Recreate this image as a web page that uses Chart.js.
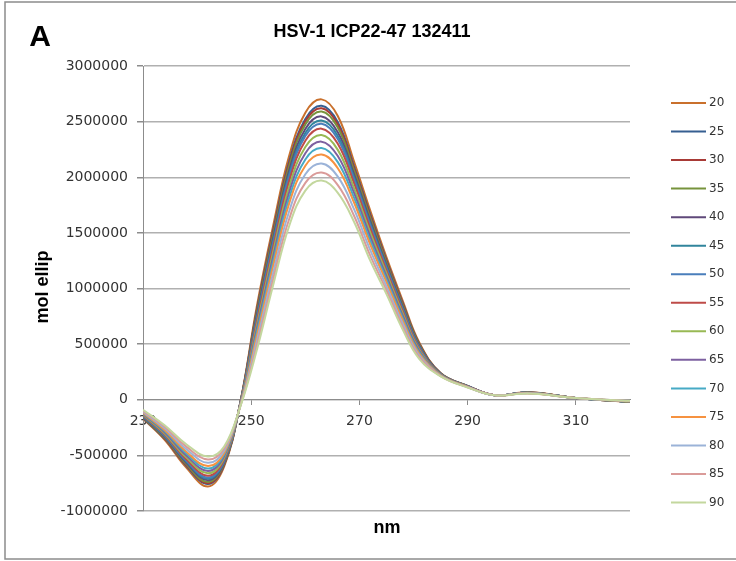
<!DOCTYPE html>
<html>
<head>
<meta charset="utf-8">
<title>HSV-1 ICP22-47 132411</title>
<script src="https://cdn.jsdelivr.net/npm/chart.js@4.4.0/dist/chart.umd.min.js"></script>
<style>
html,body{margin:0;padding:0;background:#fff;}
#wrap{width:736px;height:561px;position:relative;}
</style>
</head>
<body>
<div id="wrap"><canvas id="cd"></canvas></div>
<script>
const nm = [230,234,238,242,245,248,251,254,257,260,263,266,269,272,275,278,281,285,290,295,300,303,310,320];
const nmTicks = [230,250,270,290,310];

const temps = ['20','25','30','35','40','45','50','55','60','65','70','75','80','85','90'];

// mol ellip per temperature
const s20 = [-170000,-360000,-610000,-780000,-600000,-20000,830000,1550000,2190000,2580000,2700000,2550000,2140000,1700000,1280000,890000,520000,240000,125000,40000,65000,62000,15000,-20000];
const s25 = [-164000,-350000,-593000,-758000,-586000,-23000,799000,1508000,2140000,2524000,2642000,2495000,2097000,1664000,1254000,869000,508000,238000,124000,40000,64000,61000,15000,-19000];
const s30 = [-161000,-346000,-587000,-750000,-580000,-24000,787000,1492000,2121000,2503000,2620000,2474000,2081000,1651000,1244000,861000,504000,237000,123000,40000,64000,61000,15000,-19000];
const s35 = [-158000,-341000,-579000,-740000,-573000,-26000,772000,1471000,2096000,2475000,2591000,2447000,2059000,1633000,1231000,851000,498000,236000,123000,40000,64000,61000,15000,-19000];
const s40 = [-153000,-333000,-566000,-723000,-562000,-28000,748000,1439000,2058000,2433000,2547000,2405000,2027000,1606000,1211000,835000,489000,234000,122000,40000,63000,60000,15000,-18000];
const s45 = [-149000,-326000,-555000,-710000,-553000,-30000,729000,1412000,2026000,2398000,2510000,2371000,2000000,1583000,1194000,822000,481000,232000,121000,40000,62000,59000,15000,-17000];
const s50 = [-146000,-321000,-547000,-699000,-546000,-32000,713000,1391000,2001000,2370000,2481000,2343000,1978000,1565000,1181000,812000,475000,231000,121000,40000,62000,59000,15000,-17000];
const s55 = [-141000,-313000,-534000,-683000,-535000,-34000,690000,1359000,1963000,2328000,2437000,2302000,1946000,1538000,1161000,796000,466000,229000,120000,40000,61000,58000,15000,-16000];
const s60 = [-135000,-303000,-518000,-661000,-521000,-38000,658000,1317000,1913000,2272000,2379000,2246000,1902000,1502000,1135000,776000,454000,227000,118000,40000,61000,58000,15000,-16000];
const s65 = [-128000,-292000,-501000,-640000,-506000,-41000,627000,1274000,1862000,2216000,2320000,2191000,1859000,1466000,1108000,755000,442000,224000,117000,40000,60000,57000,15000,-15000];
const s70 = [-122000,-282000,-484000,-618000,-492000,-44000,596000,1232000,1812000,2160000,2262000,2136000,1816000,1430000,1082000,734000,430000,222000,116000,40000,59000,56000,15000,-14000];
const s75 = [-116000,-272000,-467000,-596000,-478000,-47000,565000,1190000,1762000,2104000,2204000,2081000,1773000,1394000,1056000,713000,418000,220000,115000,40000,58000,55000,15000,-13000];
const s80 = [-107000,-257000,-444000,-567000,-458000,-52000,522000,1131000,1692000,2027000,2123000,2005000,1713000,1345000,1019000,685000,402000,216000,113000,40000,57000,54000,15000,-12000];
const s85 = [-98000,-243000,-421000,-537000,-438000,-56000,479000,1073000,1623000,1950000,2043000,1929000,1654000,1295000,983000,656000,385000,213000,112000,40000,56000,53000,15000,-11000];
const s90 = [-90000,-230000,-400000,-510000,-420000,-60000,440000,1020000,1560000,1880000,1970000,1860000,1600000,1250000,950000,630000,370000,210000,110000,40000,55000,52000,15000,-10000];

const series = [s20,s25,s30,s35,s40,s45,s50,s55,s60,s65,s70,s75,s80,s85,s90];

const colors = ['#C9702C','#365F91','#A83A36','#77933C','#5F497A','#31859C','#4A7EBB',
  '#BE4B48','#98B954','#7D60A0','#46AAC5','#F69240','#9BB3D8','#DA9B99','#C3D79E'];

const titleText = 'HSV-1 ICP22-47 132411';

const datasets = series.map((vals,i)=>({
  label: temps[i],
  data: vals.map((v,j)=>({x:nm[j], y:v})),
  borderColor: colors[i],
  backgroundColor: colors[i],
  borderWidth: 2,
  pointRadius: 0,
  fill: false,
  tension: 0.4,
  order: series.length - i
}));

// frame, titles and legend
const decorations = {
  id: 'decorations',
  afterDraw(chart){
    const ctx = chart.ctx;
    ctx.save();
    ctx.strokeStyle = '#8c8c8c';
    ctx.lineWidth = 1.5;
    ctx.strokeRect(5, 2, 760, 557);

    ctx.fillStyle = '#000';
    ctx.textAlign = 'center';
    ctx.textBaseline = 'middle';
    ctx.font = 'bold 30px "Liberation Sans"';
    ctx.fillText('A', 40, 38);
    ctx.font = 'bold 18px "Liberation Sans"';
    ctx.fillText(titleText, 372, 32);
    ctx.fillText('nm', 387, 528);
    ctx.save();
    ctx.translate(43, 287);
    ctx.rotate(-Math.PI/2);
    ctx.fillText('mol ellip', 0, 0);
    ctx.restore();

    ctx.font = '12px "DejaVu Sans"';
    ctx.textAlign = 'left';
    chart.data.datasets.forEach((d,i)=>{
      const y = 103 + i*28.54;
      ctx.strokeStyle = d.borderColor;
      ctx.lineWidth = 2;
      ctx.beginPath();
      ctx.moveTo(671, y);
      ctx.lineTo(706, y);
      ctx.stroke();
      ctx.fillStyle = '#333';
      ctx.fillText(d.label, 709, y);
    });
    ctx.restore();
  }
};

new Chart(document.getElementById('cd'),{
  type:'line',
  data:{datasets:datasets},
  options:{
    responsive:true,
    maintainAspectRatio:false,
    animation:false,
    devicePixelRatio:1,
    layout:{padding:{left:0,top:66,right:106,bottom:50}},
    plugins:{legend:{display:false},tooltip:{enabled:false}},
    scales:{
      x:{
        type:'linear',
        position:{y:0},
        min:230,
        max:320,
        grid:{drawOnChartArea:false,drawTicks:true,tickLength:5,color:'#8c8c8c'},
        border:{display:true,color:'#8c8c8c'},
        ticks:{padding:8,color:'#333',
          font:{family:'DejaVu Sans',size:14}},
        afterBuildTicks(scale){ scale.ticks = nmTicks.map(v=>({value:v})); }
      },
      y:{
        min:-1000000,
        max:3000000,
        grid:{color:'#b0b0b0',lineWidth:1.5,tickLength:6,tickColor:'#8c8c8c'},
        border:{display:true,color:'#8c8c8c'},
        ticks:{stepSize:500000,padding:9,color:'#333',
          font:{family:'DejaVu Sans',size:14},
          callback:v=>String(v)},
        afterFit(scale){ scale.width = 143; }
      }
    }
  },
  plugins:[decorations]
});
</script>
</body>
</html>
